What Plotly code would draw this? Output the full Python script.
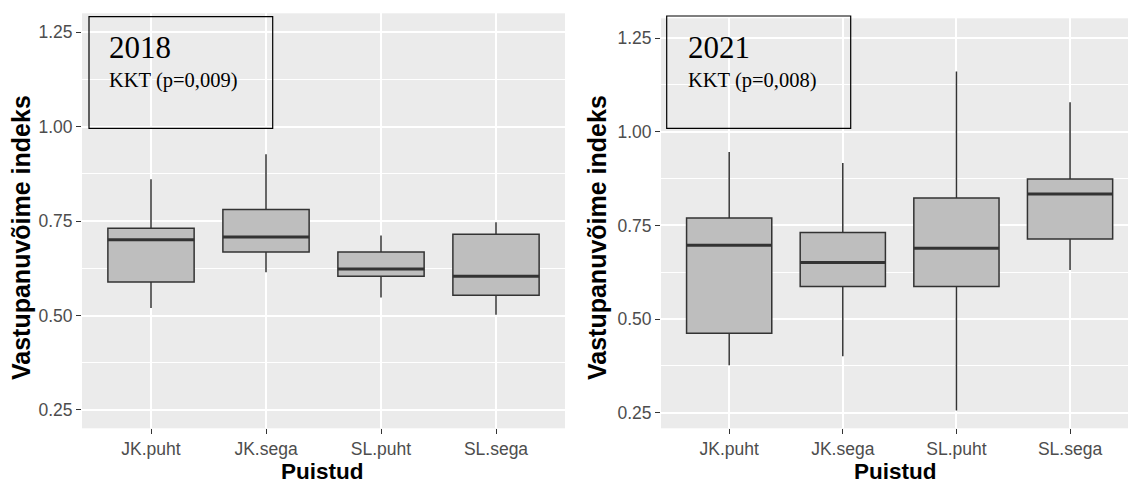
import plotly.graph_objects as go

# ---- data ----
categories = ["JK.puht", "JK.sega", "SL.puht", "SL.sega"]

lower_2018 = [0.520, 0.615, 0.548, 0.502]
q1_2018 = [0.589, 0.668, 0.604, 0.554]
median_2018 = [0.701, 0.708, 0.623, 0.604]
q3_2018 = [0.731, 0.781, 0.668, 0.715]
upper_2018 = [0.861, 0.927, 0.712, 0.747]

lower_2021 = [0.377, 0.401, 0.256, 0.631]
q1_2021 = [0.462, 0.587, 0.587, 0.714]
median_2021 = [0.697, 0.651, 0.689, 0.834]
q3_2021 = [0.770, 0.731, 0.823, 0.874]
upper_2021 = [0.946, 0.917, 1.161, 1.079]

y_ticks = [0.25, 0.50, 0.75, 1.00, 1.25]
y_ticktext = ["0.25", "0.50", "0.75", "1.00", "1.25"]

panel_titles = ["2018", "2021"]
test_labels = ["KKT (p=0,009)", "KKT (p=0,008)"]
x_title = "Puistud"
y_title = "Vastupanuvõime indeks"

# ---- styling ----
W, H = 1128, 483
BOX_FILL = "#BEBEBE"
LINE_COL = "#333333"
PANEL_BG = "#EBEBEB"
BOX_W = 0.75

fig = go.Figure()

panels = [
    dict(xa="x", ya="y", lo=lower_2018, q1=q1_2018, md=median_2018, q3=q3_2018, up=upper_2018),
    dict(xa="x2", ya="y2", lo=lower_2021, q1=q1_2021, md=median_2021, q3=q3_2021, up=upper_2021),
]

for p in panels:
    for i, cat in enumerate(categories):
        fig.add_trace(go.Box(
            x=[i], q1=[p["q1"][i]], median=[p["md"][i]], q3=[p["q3"][i]],
            lowerfence=[p["lo"][i]], upperfence=[p["up"][i]],
            width=BOX_W, fillcolor=BOX_FILL, whiskerwidth=0,
            line=dict(color=LINE_COL, width=1.5),
            boxpoints=False, showlegend=False, name=cat,
            xaxis=p["xa"], yaxis=p["ya"], hoverinfo="skip",
        ))
        # thicker median bar like ggplot
        fig.add_trace(go.Scatter(
            x=[i - BOX_W / 2, i + BOX_W / 2], y=[p["md"][i], p["md"][i]],
            mode="lines", line=dict(color=LINE_COL, width=3),
            showlegend=False, hoverinfo="skip",
            xaxis=p["xa"], yaxis=p["ya"],
        ))

tickfont = dict(family="Liberation Sans, Arial, sans-serif", size=17.5, color="#4D4D4D")

def xaxis(domain, rng, anchor):
    return dict(
        domain=domain, range=rng, anchor=anchor, tickmode="array",
        tickvals=list(range(len(categories))), ticktext=categories,
        showgrid=True, gridcolor="white", gridwidth=1.5, zeroline=False,
        ticks="outside", ticklen=5, tickcolor=LINE_COL, tickwidth=1,
        tickfont=tickfont, showline=False, fixedrange=True,
    )

def yaxis(domain, rng, anchor):
    return dict(
        domain=domain, range=rng, anchor=anchor, tickmode="array",
        tickvals=y_ticks, ticktext=y_ticktext,
        showgrid=True, gridcolor="white", gridwidth=1.5, zeroline=False,
        minor=dict(tickmode="array", tickvals=[0.375, 0.625, 0.875, 1.125],
                   showgrid=True, gridcolor="white", gridwidth=0.7, ticks=""),
        ticks="outside", ticklen=5, tickcolor=LINE_COL, tickwidth=1,
        tickfont=tickfont, showline=False, fixedrange=True,
    )

def px_x(v):
    return v / W

def px_y(v):
    return (H - v) / H

fig.update_layout(
    width=W, height=H,
    margin=dict(l=0, r=0, t=0, b=0),
    paper_bgcolor="white",
    plot_bgcolor=PANEL_BG,
    xaxis=xaxis([px_x(82), px_x(565)], [-0.6, 3.6], "y"),
    yaxis=yaxis([px_y(428.3), px_y(13.3)], [0.2015, 1.3003], "x"),
    xaxis2=xaxis([px_x(661), 1.0], [-0.6, 3.51], "y2"),
    yaxis2=yaxis([px_y(428.3), px_y(18.3)], [0.2084, 1.303], "x2"),
)

serif = "Liberation Serif, Times New Roman, serif"
sans_bold = "Liberation Sans, Arial, sans-serif"

# annotation frames (transparent, black border)
frames = [(89, 272.7, 16.7, 128.3), (666.7, 850.7, 16, 128.3)]
text_left = [109, 687.7]
for k, (x0, x1, y0, y1) in enumerate(frames):
    fig.add_shape(type="rect", xref="paper", yref="paper",
                  x0=px_x(x0), x1=px_x(x1), y0=px_y(y1), y1=px_y(y0),
                  line=dict(color="black", width=1.2), fillcolor="rgba(0,0,0,0)",
                  layer="above")
    fig.add_annotation(xref="paper", yref="paper", x=px_x(text_left[k] - 2), y=px_y(47),
                       xanchor="left", yanchor="middle", showarrow=False,
                       text=panel_titles[k], font=dict(family=serif, size=31, color="black"))
    fig.add_annotation(xref="paper", yref="paper", x=px_x(text_left[k] - 2), y=px_y(80),
                       xanchor="left", yanchor="middle", showarrow=False,
                       text=test_labels[k], font=dict(family=serif, size=20.5, color="black"))

# axis titles
for cx in [322, 895]:
    fig.add_annotation(xref="paper", yref="paper", x=px_x(cx), y=px_y(471),
                       xanchor="center", yanchor="middle", showarrow=False,
                       text="<b>%s</b>" % x_title,
                       font=dict(family=sans_bold, size=22.5, color="black"))
for cx in [21, 597]:
    fig.add_annotation(xref="paper", yref="paper", x=px_x(cx), y=px_y(238),
                       xanchor="center", yanchor="middle", showarrow=False, textangle=-90,
                       text="<b>%s</b>" % y_title,
                       font=dict(family=sans_bold, size=25, color="black"))

# remove the default page margin so the figure sits at the window's top-left corner
fig.write_html("out.html", config={"displayModeBar": False},
               post_script="document.body.style.margin='0px';")
